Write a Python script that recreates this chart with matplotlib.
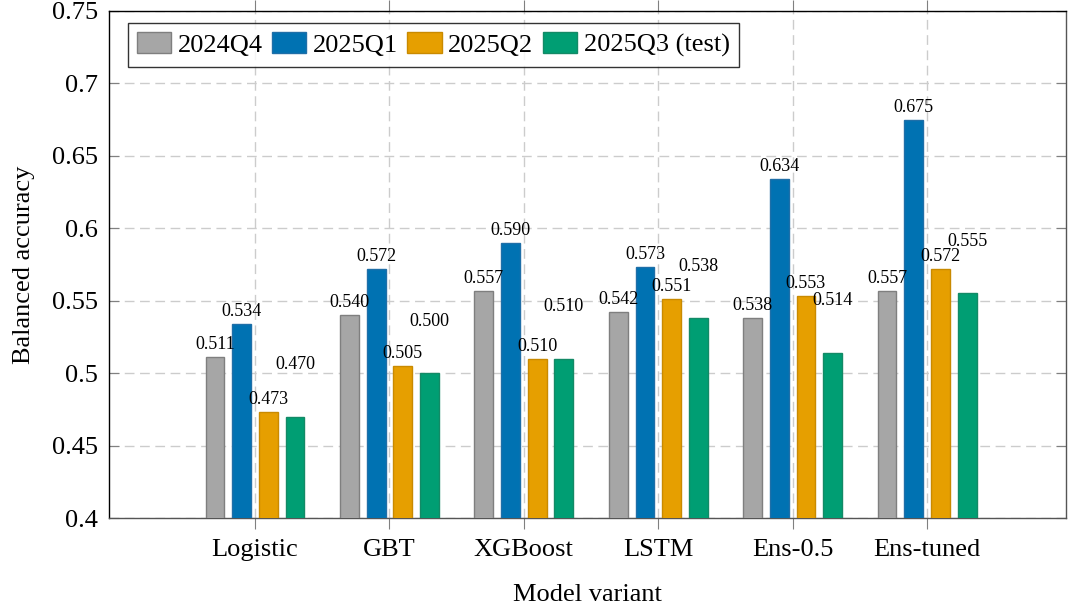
import matplotlib
matplotlib.use("Agg")
import matplotlib.pyplot as plt
import numpy as np

plt.rcParams["font.family"] = ["Liberation Serif", "DejaVu Serif"]

models = ["Logistic", "GBT", "XGBoost", "LSTM", "Ens-0.5", "Ens-tuned"]
series = ["2024Q4", "2025Q1", "2025Q2", "2025Q3 (test)"]
q4_2024 = [0.511, 0.540, 0.557, 0.542, 0.538, 0.557]
q1_2025 = [0.534, 0.572, 0.590, 0.573, 0.634, 0.675]
q2_2025 = [0.473, 0.505, 0.510, 0.551, 0.553, 0.572]
q3_2025 = [0.470, 0.500, 0.510, 0.538, 0.514, 0.555]
yticks = [0.4, 0.45, 0.5, 0.55, 0.6, 0.65, 0.7, 0.75]
ytick_labels = ["0.4", "0.45", "0.5", "0.55", "0.6", "0.65", "0.7", "0.75"]

faces = ["#a6a6a6", "#0072b2", "#e69f00", "#009e73"]
edges = ["#7f7f7f", "#1f6fa8", "#c98a00", "#138a66"]
label_off = [9, 9, 9, 37.5]  # points above bar top (Q3 labels sit higher)

fig = plt.figure(figsize=(10.68, 6.10), dpi=100)
ax = fig.add_axes([0.1021, 0.1508, 0.8961, 0.8312])

x = np.arange(len(models))
offsets = [-0.298, -0.099, 0.099, 0.298]
width = 0.14
for vals, name, fc, ec, off, loff in zip([q4_2024, q1_2025, q2_2025, q3_2025],
                                         series, faces, edges, offsets, label_off):
    bars = ax.bar(x + off, vals, width, bottom=0, color=fc, edgecolor=ec,
                  linewidth=1.0, label=name, zorder=3)
    for b, v in zip(bars, vals):
        ax.annotate(f"{v:.3f}", (b.get_x() + b.get_width() / 2, v),
                    xytext=(0, loff), textcoords="offset points",
                    ha="center", va="center", fontsize=13, zorder=4)

ax.set_xlim(-1.086, 6.034)
ax.set_ylim(0.4, 0.75)
ax.set_xticks(x)
ax.set_xticklabels(models, fontsize=19)
ax.set_yticks(yticks)
ax.set_yticklabels(ytick_labels, fontsize=19)

ax.tick_params(axis="y", which="both", direction="in", length=7, color="#808080",
               left=True, right=True, pad=8)
ax.tick_params(axis="x", direction="out", length=8, color="#808080",
               bottom=True, top=True, pad=7)

ax.grid(True, linestyle=(0, (7, 4)), color="#cccccc", linewidth=1.0, zorder=0)
ax.set_axisbelow(True)

for s in ["left", "top"]:
    ax.spines[s].set_color("black")
for s in ["bottom", "right"]:
    ax.spines[s].set_color("#555555")
for s in ax.spines.values():
    s.set_linewidth(1.0)

ax.set_ylabel("Balanced accuracy", fontsize=19, labelpad=12)
ax.set_xlabel("Model variant", fontsize=19, labelpad=17)

leg = ax.legend(loc="upper left", bbox_to_anchor=(0.0195, 0.976), ncol=4,
                fontsize=19, frameon=True, fancybox=False, edgecolor="black",
                handlelength=1.3, handleheight=0.85, handletextpad=0.25,
                columnspacing=0.35, borderpad=0.35, borderaxespad=0.0)
leg.get_frame().set_linewidth(1.0)

fig.savefig("out.png", dpi=100)
